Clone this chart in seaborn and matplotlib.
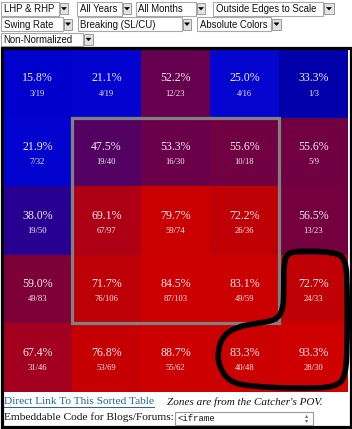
import numpy as np
import pandas as pd
import seaborn as sns
import matplotlib
matplotlib.use("Agg")
import matplotlib.pyplot as plt
from matplotlib.colors import LinearSegmentedColormap
from matplotlib.patches import Rectangle, Polygon, PathPatch
from matplotlib.path import Path

# ---- data (catcher's POV, 5x5 zones, top row first) ----
rates = [
    [15.8, 21.1, 52.2, 25.0, 33.3],
    [21.9, 47.5, 53.3, 55.6, 55.6],
    [38.0, 69.1, 79.7, 72.2, 56.5],
    [59.0, 71.7, 84.5, 83.1, 72.7],
    [67.4, 76.8, 88.7, 83.3, 93.3],
]
swings = [
    [3, 4, 12, 4, 1],
    [7, 19, 16, 10, 5],
    [19, 67, 59, 26, 13],
    [49, 76, 87, 49, 24],
    [31, 53, 55, 40, 28],
]
pitches = [
    [19, 19, 23, 16, 3],
    [32, 40, 30, 18, 9],
    [50, 97, 74, 36, 23],
    [83, 106, 103, 59, 33],
    [46, 69, 62, 48, 30],
]
controls_row1 = ["LHP & RHP", "All Years", "All Months", "Outside Edges to Scale"]
controls_row2 = ["Swing Rate", "Breaking (SL/CU)", "Absolute Colors"]
controls_row3 = ["Non-Normalized"]

W, H = 352, 429
fig = plt.figure(figsize=(W / 100, H / 100), dpi=100)
fig.patch.set_facecolor("white")

# colour scale (absolute colours: blue -> purple -> red)
nodes = [(15, (0, 0, 205)), (25, (5, 5, 208)), (33, (0, 0, 172)), (38, (40, 0, 145)),
         (47.5, (82, 0, 100)), (53, (105, 0, 75)), (59, (125, 0, 55)), (67.5, (162, 0, 30)),
         (72, (190, 0, 4)), (80, (202, 0, 0)), (95, (208, 0, 0))]
vmin, vmax = 15, 95
cmap = LinearSegmentedColormap.from_list(
    "abs", [((v - vmin) / (vmax - vmin), tuple(c / 255 for c in col)) for v, col in nodes])

df = pd.DataFrame(rates)
gx0, gx1, gy0, gy1 = 3, 348, 49, 392
ax = fig.add_axes([gx0 / W, 1 - gy1 / H, (gx1 - gx0) / W, (gy1 - gy0) / H])
sns.heatmap(df, ax=ax, cmap=cmap, vmin=vmin, vmax=vmax, cbar=False,
            xticklabels=False, yticklabels=False, linewidths=0)
ax.set_xlabel("")
ax.set_ylabel("")
for s in ax.spines.values():
    s.set_visible(False)

serif = ["Liberation Serif", "DejaVu Serif"]
for i in range(5):
    for j in range(5):
        ax.text(j + 0.5, i + 0.5 - 0.07, f"{rates[i][j]:.1f}%", ha="center", va="center",
                color="#f2eaf2", fontsize=8.6, family=serif)
        ax.text(j + 0.5, i + 0.5 + 0.15, f"{swings[i][j]}/{pitches[i][j]}", ha="center",
                va="center", color="#f2eaf2", fontsize=6.2, family=serif)

# strike zone box
ax.add_patch(Rectangle((1, 1), 3, 3, fill=False, edgecolor="#808080", lw=2.3, zorder=5))

# hand drawn loop (smooth closed quadratic spline through control polygon)
loop = [(4.12, 2.98), (4.30, 2.94), (4.79, 2.96), (4.97, 3.05), (4.99, 3.51), (4.99, 4.24),
        (4.97, 4.75), (4.84, 4.93), (4.30, 4.95), (3.58, 4.92), (3.28, 4.85), (3.13, 4.63),
        (3.11, 4.39), (3.20, 4.17), (3.39, 4.05), (3.68, 4.00), (3.96, 3.95), (4.06, 3.80),
        (4.07, 3.51), (4.07, 3.12)]
n = len(loop)
mids = [((loop[k][0] + loop[(k + 1) % n][0]) / 2, (loop[k][1] + loop[(k + 1) % n][1]) / 2)
        for k in range(n)]
verts = [mids[-1]]
codes = [Path.MOVETO]
for k in range(n):
    verts += [loop[k], mids[k]]
    codes += [Path.CURVE3, Path.CURVE3]
ax.add_patch(PathPatch(Path(verts, codes), fill=False, edgecolor="black", lw=4.0,
                       joinstyle="round", capstyle="round", zorder=6, clip_on=False))

# overlay for page elements
ov = fig.add_axes([0, 0, 1, 1])
ov.set_xlim(0, W)
ov.set_ylim(H, 0)
ov.axis("off")
ov.set_zorder(10)
ov.patch.set_visible(False)

sans = ["Liberation Sans", "DejaVu Sans"]


def dropdown(label, x0, x1, a0, a1, y0, y1):
    ov.add_patch(Rectangle((x0, y0), x1 - x0, y1 - y0, facecolor="white",
                           edgecolor="#a8a8a8", lw=0.8))
    ov.text(x0 + 2.5, (y0 + y1) / 2 + 0.5, label, ha="left", va="center", fontsize=6.9,
            family=sans, color="#111111")
    ov.add_patch(Rectangle((a0, y0 + 1.5), a1 - a0, y1 - y0 - 3, facecolor="#e2e2e2",
                           edgecolor="#9a9a9a", lw=0.7))
    cx, cy = (a0 + a1) / 2, (y0 + y1) / 2
    ov.add_patch(Polygon([(cx - 2.5, cy - 1.2), (cx + 2.5, cy - 1.2), (cx, cy + 1.6)],
                         closed=True, facecolor="black", edgecolor="black", lw=0.3))


r1 = [(1, 59, 60, 68), (77, 122, 123, 131), (136, 196, 197, 205), (213, 323, 324, 334)]
r2 = [(1, 63, 64, 72), (78, 182, 183, 191), (197, 271, 272, 281)]
r3 = [(1, 83, 84, 93)]
for lab, g in zip(controls_row1, r1):
    dropdown(lab, *g, 1.5, 15.5)
for lab, g in zip(controls_row2, r2):
    dropdown(lab, *g, 17, 31)
for lab, g in zip(controls_row3, r3):
    dropdown(lab, *g, 32.5, 46)

# outer black frame
ov.add_patch(Rectangle((1.5, 48), 349, 379, fill=False, edgecolor="black", lw=2.3))

# bottom links
ov.text(4, 402, "Direct Link To This Sorted Table", ha="left", va="center", fontsize=8.2,
        family=serif, color="#1f5f9f")
ov.plot([4, 154], [407, 407], color="#1f5f9f", lw=0.7)
ov.text(167, 402, "Zones are from the Catcher's POV.", ha="left", va="center",
        fontsize=8.0, family=serif, style="italic", color="#111111")
ov.text(4, 417.5, "Embeddable Code for Blogs/Forums:", ha="left", va="center", fontsize=8.2,
        family=serif, color="#111111")
ov.add_patch(Rectangle((175, 411.5), 138, 13.5, facecolor="white", edgecolor="#9a9a9a", lw=0.8))
ov.text(178, 418.5, "<iframe", ha="left", va="center", fontsize=6.5,
        family=["Liberation Mono", "DejaVu Sans Mono"], color="#111111")
ov.text(307, 416, "\u25b4", ha="center", va="center", fontsize=4.5, color="#666666", family=sans)
ov.text(307, 421, "\u25be", ha="center", va="center", fontsize=4.5, color="#666666", family=sans)

fig.savefig("out.png", dpi=100)
